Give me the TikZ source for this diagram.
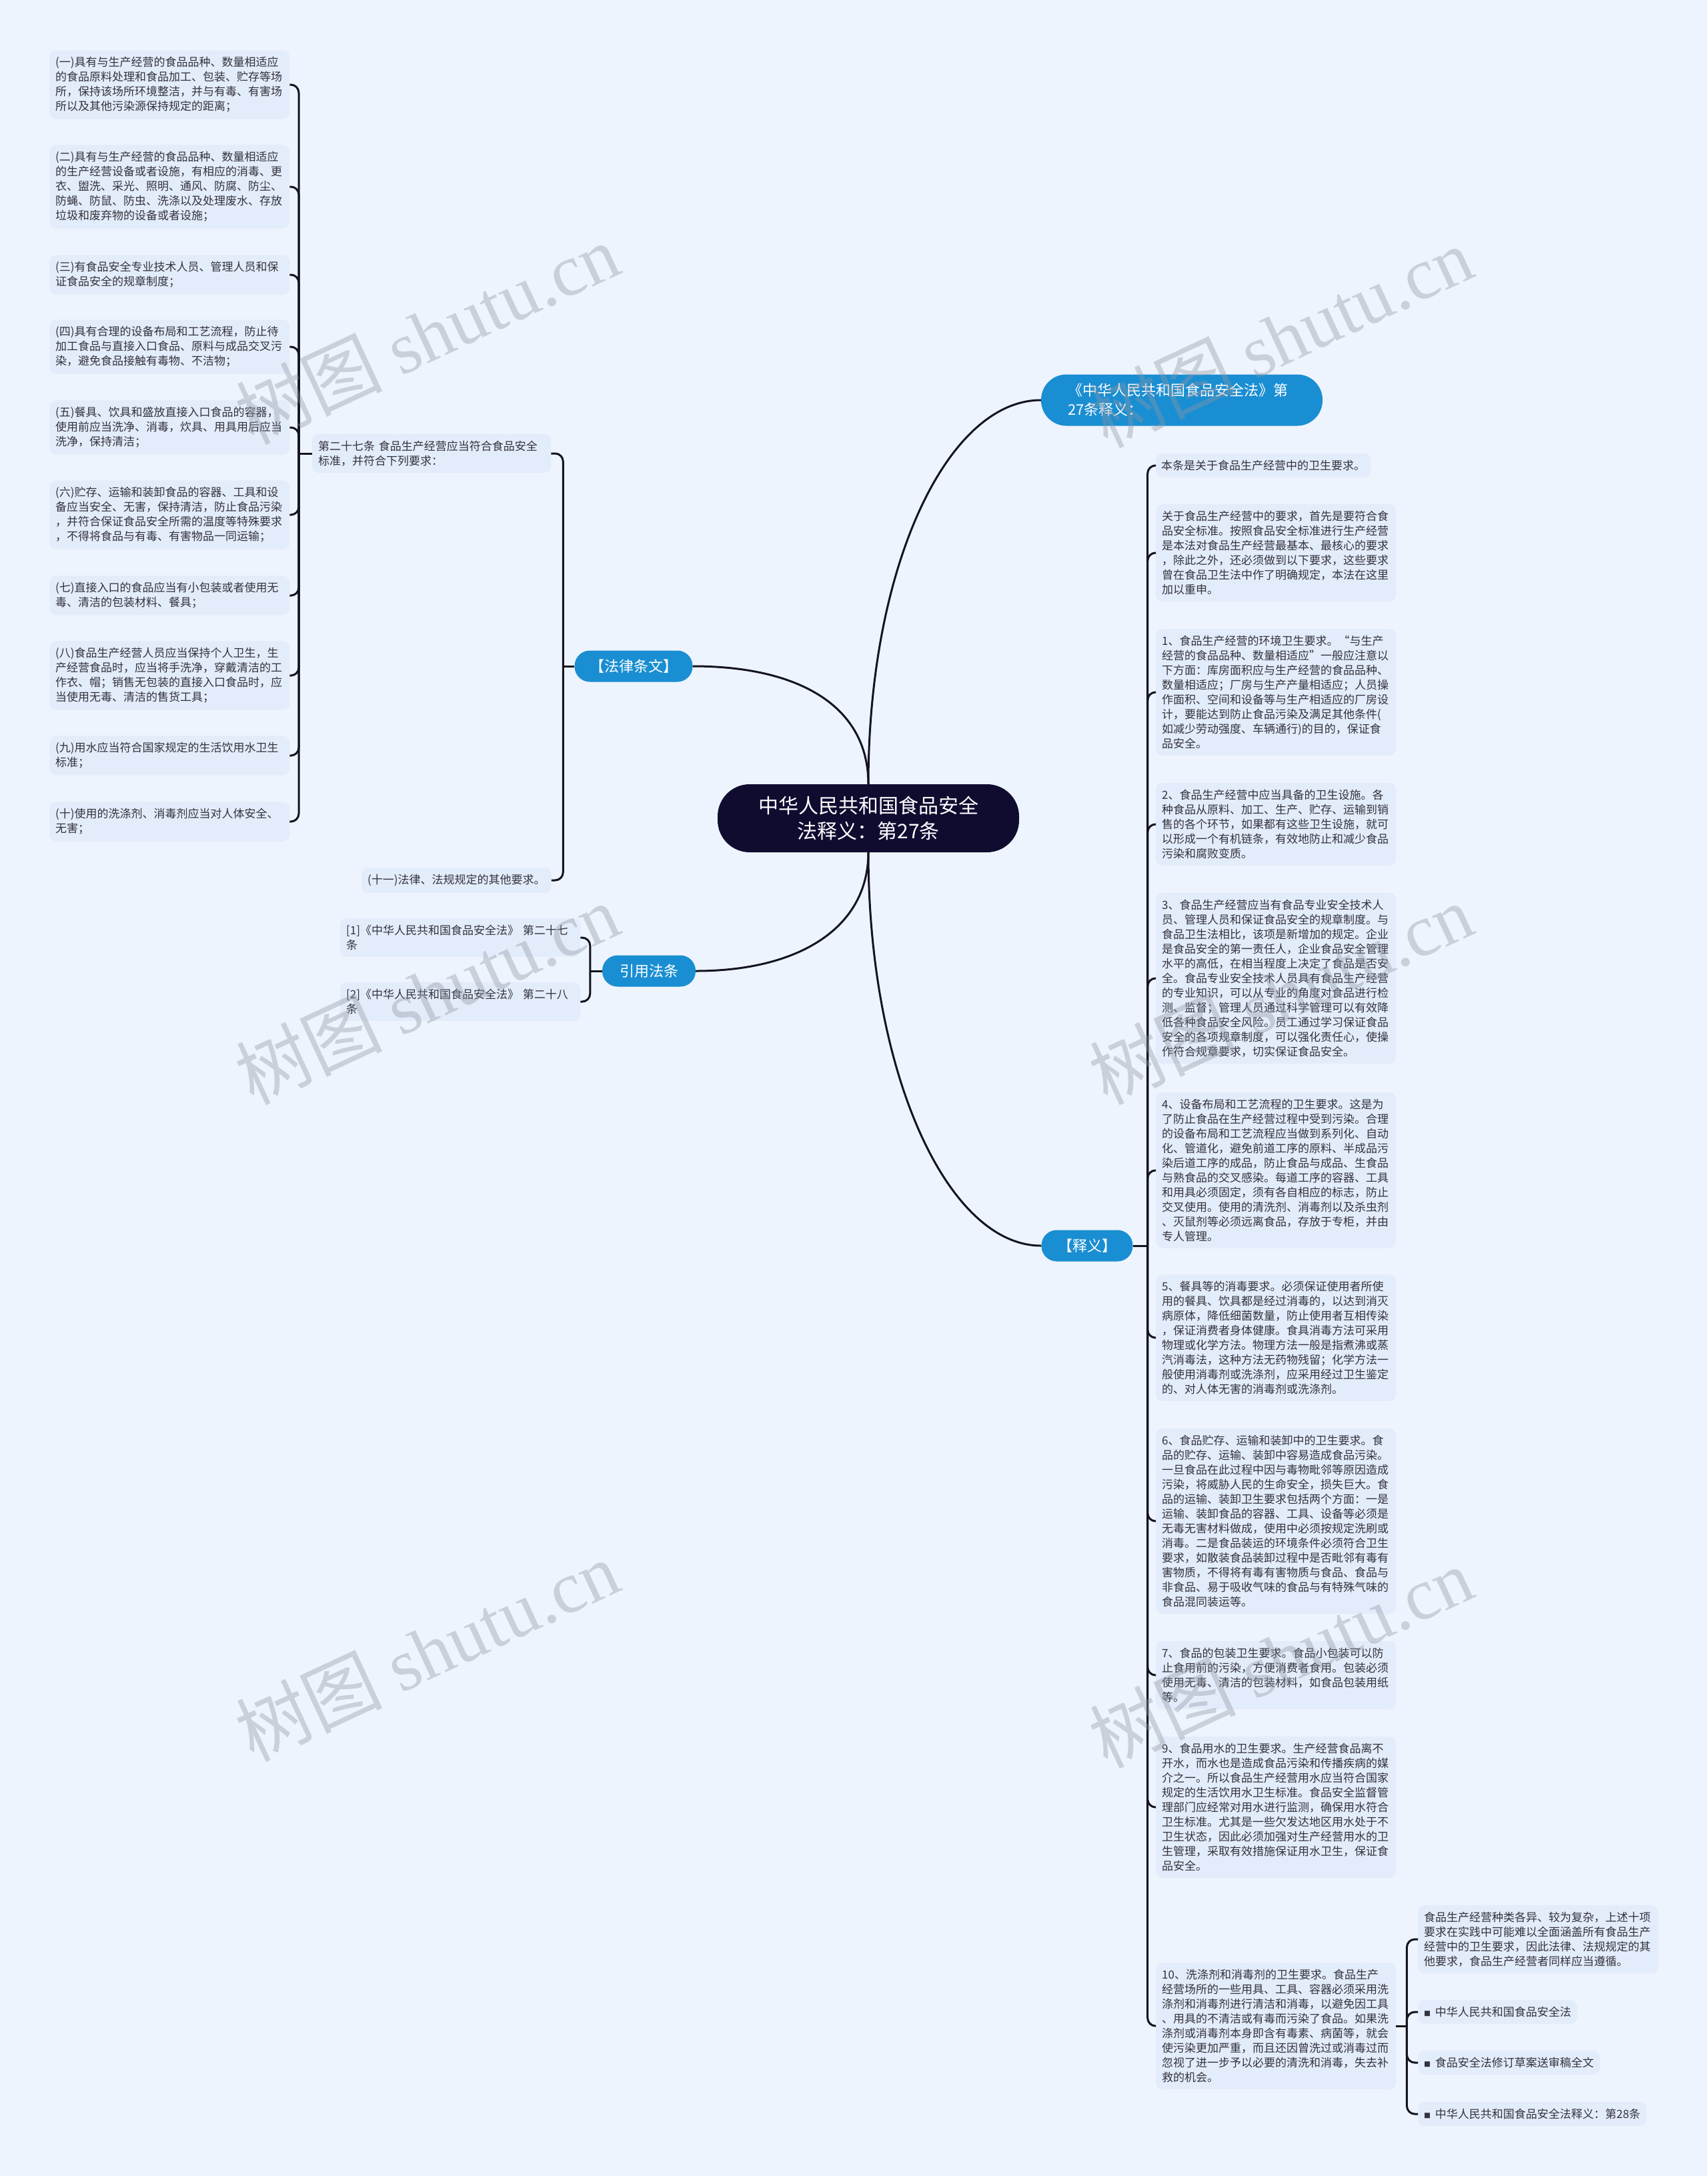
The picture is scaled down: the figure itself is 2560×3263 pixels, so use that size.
\documentclass[tikz,border=0pt]{standalone}
\usepackage{fontspec}
\setmainfont{Noto Sans CJK SC}
\newfontfamily\wmlatin{Liberation Serif}
\definecolor{bgc}{HTML}{EEF4FD}
\definecolor{leaffill}{HTML}{E3ECFA}
\definecolor{blueone}{HTML}{1A8ED2}
\definecolor{navy}{HTML}{100C30}
\definecolor{linec}{HTML}{14141E}
\definecolor{txt}{HTML}{33333D}
\definecolor{wmc}{HTML}{8F96A3}
\begin{document}
\begin{tikzpicture}[x=1pt,y=-1pt,
  conn/.style={line width=3pt, draw=linec, rounded corners=12pt},
  leaf/.style={fill=leaffill, rounded corners=10pt, inner xsep=9pt, inner ysep=10pt,
    text width=342pt, align=left, anchor=west, text=txt, font=\fontsize{17}{22}\selectfont},
  leafs/.style={fill=leaffill, rounded corners=10pt, inner xsep=9pt, inner ysep=10pt,
    align=left, anchor=west, text=txt, font=\fontsize{17}{22}\selectfont},
  lone/.style={fill=blueone, text=white, rounded corners=23pt, inner sep=0pt,
    minimum height=47pt, align=center, font=\fontsize{22}{29}\selectfont},
  cnode/.style={fill=navy, text=white, rounded corners=48pt, inner sep=0pt,
    minimum width=452pt, minimum height=102pt, align=center, font=\fontsize{30}{38}\selectfont},
  wm/.style={text=wmc, opacity=0.38, font=\fontsize{110}{110}\selectfont, rotate=25}
]
\fill[bgc] (0,0) rectangle (2560,3263);
\useasboundingbox (0,0) rectangle (2560,3263);

% central and first level
\node[cnode] (cn) at (1302,1227) {中华人民共和国食品安全\\法释义：第27条};
\node[lone, minimum width=422pt, text width=342pt, align=left, minimum height=77pt, rounded corners=38pt] (top) at (1772,600) {《中华人民共和国食品安全法》第\\27条释义：};
\node[lone, minimum width=177pt] (law) at (950,999) {【法律条文】};
\node[lone, minimum width=140pt] (ref) at (973,1456) {引用法条};
\node[lone, minimum width=137pt] (expl) at (1630,1868) {【释义】};

% law branch
\node[leaf, text width=340pt] (art27) at (468,680) {第二十七条 食品生产经营应当符合食品安全\\标准，并符合下列要求：};
\node[leafs] (L11) at (542,1320) {(十一)法律、法规规定的其他要求。};

\node[leaf] (L1) at (74,127) {(一)具有与生产经营的食品品种、数量相适应\\的食品原料处理和食品加工、包装、贮存等场\\所，保持该场所环境整洁，并与有毒、有害场\\所以及其他污染源保持规定的距离；};
\node[leaf] (L2) at (74,280) {(二)具有与生产经营的食品品种、数量相适应\\的生产经营设备或者设施，有相应的消毒、更\\衣、盥洗、采光、照明、通风、防腐、防尘、\\防蝇、防鼠、防虫、洗涤以及处理废水、存放\\垃圾和废弃物的设备或者设施；};
\node[leaf] (L3) at (74,412) {(三)有食品安全专业技术人员、管理人员和保\\证食品安全的规章制度；};
\node[leaf] (L4) at (74,520) {(四)具有合理的设备布局和工艺流程，防止待\\加工食品与直接入口食品、原料与成品交叉污\\染，避免食品接触有毒物、不洁物；};
\node[leaf] (L5) at (74,641) {(五)餐具、饮具和盛放直接入口食品的容器，\\使用前应当洗净、消毒，炊具、用具用后应当\\洗净，保持清洁；};
\node[leaf] (L6) at (74,772) {(六)贮存、运输和装卸食品的容器、工具和设\\备应当安全、无害，保持清洁，防止食品污染\\，并符合保证食品安全所需的温度等特殊要求\\，不得将食品与有毒、有害物品一同运输；};
\node[leaf] (L7) at (74,893) {(七)直接入口的食品应当有小包装或者使用无\\毒、清洁的包装材料、餐具；};
\node[leaf] (L8) at (74,1013) {(八)食品生产经营人员应当保持个人卫生，生\\产经营食品时，应当将手洗净，穿戴清洁的工\\作衣、帽；销售无包装的直接入口食品时，应\\当使用无毒、清洁的售货工具；};
\node[leaf] (L9) at (74,1133) {(九)用水应当符合国家规定的生活饮用水卫生\\标准；};
\node[leaf] (L10) at (74,1232) {(十)使用的洗涤剂、消毒剂应当对人体安全、\\无害；};

% reference branch
\node[leaf] (ref1) at (510,1406) {[1]《中华人民共和国食品安全法》 第二十七\\条};
\node[leaf] (ref2) at (510,1502) {[2]《中华人民共和国食品安全法》 第二十八\\条};

% explanation branch
\node[leafs, inner xsep=8pt] (R0) at (1733,698) {本条是关于食品生产经营中的卫生要求。};
\node[leaf] (R1) at (1733,829) {关于食品生产经营中的要求，首先是要符合食\\品安全标准。按照食品安全标准进行生产经营\\是本法对食品生产经营最基本、最核心的要求\\，除此之外，还必须做到以下要求，这些要求\\曾在食品卫生法中作了明确规定，本法在这里\\加以重申。};
\node[leaf] (R2) at (1733,1038) {1、食品生产经营的环境卫生要求。“与生产\\经营的食品品种、数量相适应”一般应注意以\\下方面：库房面积应与生产经营的食品品种、\\数量相适应；厂房与生产产量相适应；人员操\\作面积、空间和设备等与生产相适应的厂房设\\计，要能达到防止食品污染及满足其他条件(\\如减少劳动强度、车辆通行)的目的，保证食\\品安全。};
\node[leaf] (R3) at (1733,1236) {2、食品生产经营中应当具备的卫生设施。各\\种食品从原料、加工、生产、贮存、运输到销\\售的各个环节，如果都有这些卫生设施，就可\\以形成一个有机链条，有效地防止和减少食品\\污染和腐败变质。};
\node[leaf] (R4) at (1733,1467) {3、食品生产经营应当有食品专业安全技术人\\员、管理人员和保证食品安全的规章制度。与\\食品卫生法相比，该项是新增加的规定。企业\\是食品安全的第一责任人，企业食品安全管理\\水平的高低，在相当程度上决定了食品是否安\\全。食品专业安全技术人员具有食品生产经营\\的专业知识，可以从专业的角度对食品进行检\\测、监督；管理人员通过科学管理可以有效降\\低各种食品安全风险。员工通过学习保证食品\\安全的各项规章制度，可以强化责任心，使操\\作符合规章要求，切实保证食品安全。};
\node[leaf] (R5) at (1733,1755) {4、设备布局和工艺流程的卫生要求。这是为\\了防止食品在生产经营过程中受到污染。合理\\的设备布局和工艺流程应当做到系列化、自动\\化、管道化，避免前道工序的原料、半成品污\\染后道工序的成品，防止食品与成品、生食品\\与熟食品的交叉感染。每道工序的容器、工具\\和用具必须固定，须有各自相应的标志，防止\\交叉使用。使用的清洗剂、消毒剂以及杀虫剂\\、灭鼠剂等必须远离食品，存放于专柜，并由\\专人管理。};
\node[leaf] (R6) at (1733,2006) {5、餐具等的消毒要求。必须保证使用者所使\\用的餐具、饮具都是经过消毒的，以达到消灭\\病原体，降低细菌数量，防止使用者互相传染\\，保证消费者身体健康。食具消毒方法可采用\\物理或化学方法。物理方法一般是指煮沸或蒸\\汽消毒法，这种方法无药物残留；化学方法一\\般使用消毒剂或洗涤剂，应采用经过卫生鉴定\\的、对人体无害的消毒剂或洗涤剂。};
\node[leaf] (R7) at (1733,2281) {6、食品贮存、运输和装卸中的卫生要求。食\\品的贮存、运输、装卸中容易造成食品污染。\\一旦食品在此过程中因与毒物毗邻等原因造成\\污染，将威胁人民的生命安全，损失巨大。食\\品的运输、装卸卫生要求包括两个方面：一是\\运输、装卸食品的容器、工具、设备等必须是\\无毒无害材料做成，使用中必须按规定洗刷或\\消毒。二是食品装运的环境条件必须符合卫生\\要求，如散装食品装卸过程中是否毗邻有毒有\\害物质，不得将有毒有害物质与食品、食品与\\非食品、易于吸收气味的食品与有特殊气味的\\食品混同装运等。};
\node[leaf] (R8) at (1733,2512) {7、食品的包装卫生要求。食品小包装可以防\\止食用前的污染，方便消费者食用。包装必须\\使用无毒、清洁的包装材料，如食品包装用纸\\等。};
\node[leaf] (R9) at (1733,2710) {9、食品用水的卫生要求。生产经营食品离不\\开水，而水也是造成食品污染和传播疾病的媒\\介之一。所以食品生产经营用水应当符合国家\\规定的生活饮用水卫生标准。食品安全监督管\\理部门应经常对用水进行监测，确保用水符合\\卫生标准。尤其是一些欠发达地区用水处于不\\卫生状态，因此必须加强对生产经营用水的卫\\生管理，采取有效措施保证用水卫生，保证食\\品安全。};
\node[leaf] (R10) at (1733,3038) {10、洗涤剂和消毒剂的卫生要求。食品生产\\经营场所的一些用具、工具、容器必须采用洗\\涤剂和消毒剂进行清洁和消毒，以避免因工具\\、用具的不清洁或有毒而污染了食品。如果洗\\涤剂或消毒剂本身即含有毒素、病菌等，就会\\使污染更加严重，而且还因曾洗过或消毒过而\\忽视了进一步予以必要的清洗和消毒，失去补\\救的机会。};

\node[leaf] (S1) at (2126,2908) {食品生产经营种类各异、较为复杂，上述十项\\要求在实践中可能难以全面涵盖所有食品生产\\经营中的卫生要求，因此法律、法规规定的其\\他要求，食品生产经营者同样应当遵循。};
\node[leafs] (S2) at (2126,3017) {{\fontsize{10}{10}\selectfont ■}\, 中华人民共和国食品安全法};
\node[leafs] (S3) at (2126,3093) {{\fontsize{10}{10}\selectfont ■}\, 食品安全法修订草案送审稿全文};
\node[leafs] (S4) at (2126,3170) {{\fontsize{10}{10}\selectfont ■}\, 中华人民共和国食品安全法释义：第28条};

% main curves
\draw[conn] (cn.north) .. controls (1302,850) and (1420,600) .. (top.west);
\draw[conn] (cn.north) .. controls (1302,1060) and (1200,999) .. (law.east);
\draw[conn] (cn.south) .. controls (1302,1390) and (1200,1456) .. (ref.east);
\draw[conn] (cn.south) .. controls (1302,1608) and (1420,1868) .. (expl.west);

% brackets
\draw[conn] (law.west) -- ++(-17,0) coordinate (bl);
\draw[conn] (bl) |- (art27.east);
\draw[conn] (bl) |- (L11.east);

\draw[conn] (art27.west) -- ++(-20,0) coordinate (ba);
\foreach \i in {1,...,10} { \draw[conn] (ba) |- (L\i.east); }

\draw[conn] (ref.west) -- ++(-18,0) coordinate (br);
\draw[conn] (br) |- (ref1.east);
\draw[conn] (br) |- (ref2.east);

\draw[conn] (expl.east) -- ++(22,0) coordinate (be);
\foreach \i in {0,...,10} { \draw[conn] (be) |- (R\i.west); }

\draw[conn] (R10.east) -- ++(16,0) coordinate (bs);
\foreach \i in {1,...,4} { \draw[conn] (bs) |- (S\i.west); }

% watermarks
\node[wm] (w1) at (640,500) {树图 {\wmlatin shutu.cn}};
\node[wm] (w2) at (1920,505) {树图 {\wmlatin shutu.cn}};
\node[wm] (w3) at (640,1490) {树图 {\wmlatin shutu.cn}};
\node[wm] (w4) at (1920,1490) {树图 {\wmlatin shutu.cn}};
\node[wm] (w5) at (640,2475) {树图 {\wmlatin shutu.cn}};
\node[wm] (w6) at (1920,2485) {树图 {\wmlatin shutu.cn}};
\end{tikzpicture}
\end{document}
